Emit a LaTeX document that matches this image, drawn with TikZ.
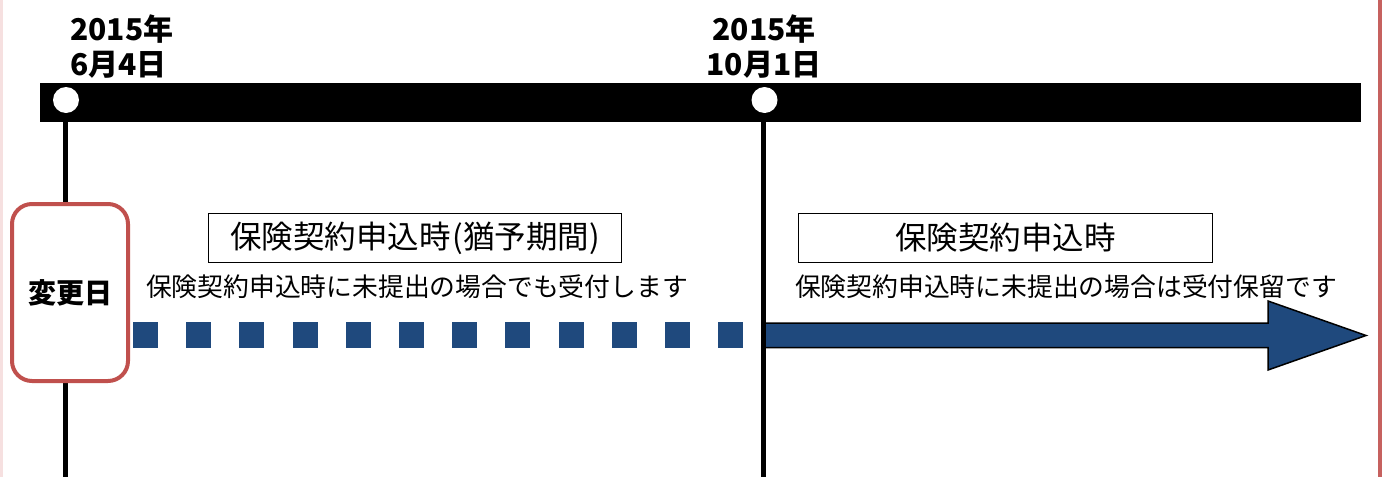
\documentclass[tikz,border=0pt]{standalone}
\usepackage{fontspec}
\setmainfont{Noto Sans CJK JP}
\definecolor{redc}{HTML}{C0504D}
\definecolor{bluec}{HTML}{1F497D}
\definecolor{pinkc}{HTML}{F6E0E0}
\tikzset{
  datelbl/.style={inner sep=0, font=\fontsize{30}{34}\selectfont\bfseries},
  periodbox/.style={draw=black, line width=1.8, fill=white, minimum height=49, inner sep=0, font=\fontsize{31.5}{34}\selectfont},
  notetxt/.style={inner sep=0, font=\fontsize{25.8}{30}\selectfont},
  dot/.style={circle, fill=white, minimum size=26, inner sep=0},
  vline/.style={line width=5, black},
  changebox/.style={draw=redc, line width=4, rounded corners=20, fill=white, minimum width=116, minimum height=177, inner sep=0, font=\fontsize{28}{32}\selectfont\bfseries},
  dashsq/.style={fill=bluec},
  bigarrow/.style={fill=bluec, draw=black, line width=1.5, line join=miter}
}
\begin{document}
\begin{tikzpicture}[x=1pt,y=-1pt]
\useasboundingbox (0,0) rectangle (1384,477);
\fill[white] (0,0) rectangle (1384,477);
% frame edges
\draw[pinkc, line width=3] (1,0) -- (1,477);
\draw[redc!90!white, line width=4] (1380,0) -- (1380,477);
% timeline bar
\fill[black] (40,83) rectangle (1361,122);
\coordinate (b1) at (65.5,477);
\coordinate (b2) at (763,477);
\node[dot] (c1) at (66,100) {};
\node[dot] (c2) at (764.5,100) {};
\draw[vline] (c1.south) ++(-0.5,0) coordinate (c1s) -- (b1);
% change-date box
\node[changebox] (chg) at (70,292.5) {変更日};
% dashed period
\foreach \i in {0,...,11} {
  \fill[dashsq] ({133+53.2*\i},322) rectangle ++(25,26);
}
% block arrow
\draw[bigarrow] (762,323) -- (1268,323) -- (1268,301) -- (1366,335.5) -- (1268,370) -- (1268,347.5) -- (762,347.5) -- cycle;
\draw[vline] (c2.south) ++(-1.5,0) coordinate (c2s) -- (b2);
% dates
\node[datelbl, anchor=west] (d1a) at (70,29) {2015年};
\node[datelbl, anchor=west] (d1b) at (70,65) {6月4日};
\node[datelbl] (d2a) at (764,29) {2015年};
\node[datelbl] (d2b) at (764,65) {10月1日};
% period boxes
\node[periodbox, minimum width=413] (p1) at (415,238) {保険契約申込時\hspace{2pt}(猶予期間)\hspace{2pt}};
\node[periodbox, minimum width=414] (p2) at (1005.5,238) {保険契約申込時};
% notes
\node[notetxt] (n1) at (417,287) {保険契約申込時に未提出の場合でも受付します};
\node[notetxt] (n2) at (1066,287) {保険契約申込時に未提出の場合は受付保留です};
\end{tikzpicture}
\end{document}
